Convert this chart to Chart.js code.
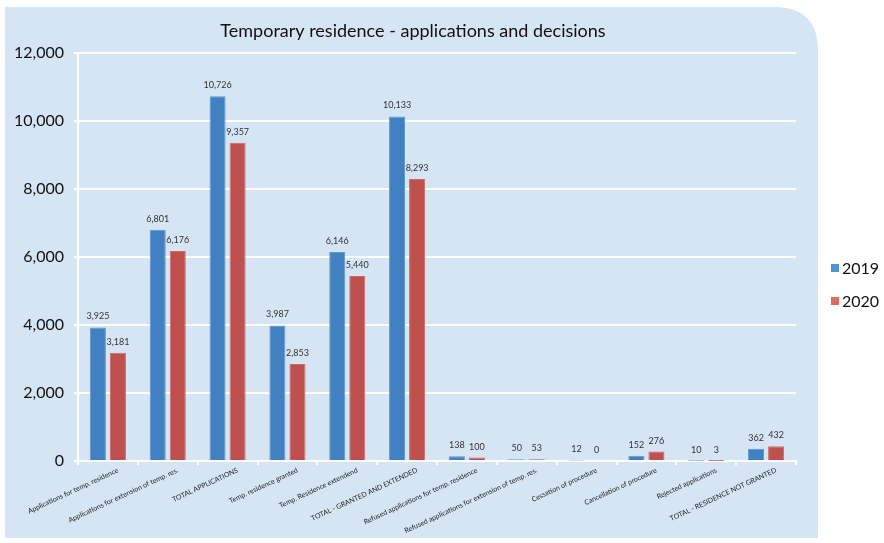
<!DOCTYPE html>
<html>
<head>
<meta charset="utf-8">
<script src="https://cdn.jsdelivr.net/npm/chart.js@4/dist/chart.umd.min.js"></script>
<style>
  html, body { margin: 0; padding: 0; background: #ffffff; }
  #wrap { width: 884px; height: 543px; }
</style>
</head>
<body>
<div id="wrap"><canvas id="grafResidencia" width="884" height="543"></canvas></div>
<script>
// categories and values
let categorias = [
    'Applications for temp. residence',
    'Applications for extension of temp. res.',
    'TOTAL APPLICATIONS',
    'Temp. residence granted',
    'Temp. Residence extendend',
    'TOTAL - GRANTED AND EXTENDED',
    'Refused applications for temp. residence',
    'Refused applications for extension of temp. res.',
    'Cessation of procedure',
    'Cancellation of procedure',
    'Rejected applications',
    'TOTAL - RESIDENCE NOT GRANTED'
];
let valores2019 = [3925, 6801, 10726, 3987, 6146, 10133, 138, 50, 12, 152, 10, 362];
let valores2020 = [3181, 6176, 9357, 2853, 5440, 8293, 100, 53, 0, 276, 3, 432];
let yTicks = [0, 2000, 4000, 6000, 8000, 10000, 12000];
let titulo = 'Temporary residence - applications and decisions';

let fonte = 'Lato, "Open Sans", sans-serif';

// fundo azul com canto arredondado + titulo + legenda
let pluginFundo = {
    id: 'fundo',
    beforeDraw: function (chart) {
        let ctx = chart.ctx;
        let x0 = 5, y0 = 7, x1 = 818, y1 = 538, r = 44;
        ctx.save();
        ctx.fillStyle = '#d5e5f4';
        ctx.beginPath();
        ctx.moveTo(x0, y0);
        ctx.lineTo(x1 - r, y0);
        ctx.quadraticCurveTo(x1, y0, x1, y0 + r);
        ctx.lineTo(x1, y1);
        ctx.lineTo(x0, y1);
        ctx.closePath();
        ctx.fill();

        ctx.fillStyle = '#111111';
        ctx.font = '18px ' + fonte;
        ctx.textAlign = 'center';
        ctx.textBaseline = 'middle';
        ctx.fillText(titulo, 413, 31);
        ctx.restore();
    },
    afterDraw: function (chart) {
        let ctx = chart.ctx;
        let coresLegenda = ['#4f97d3', '#df6a5e'];
        ctx.save();
        ctx.font = '16px ' + fonte;
        ctx.textBaseline = 'middle';
        ctx.textAlign = 'left';
        chart.data.datasets.forEach(function (ds, i) {
            let y = 268 + i * 33;
            ctx.fillStyle = coresLegenda[i];
            ctx.fillRect(831, y - 4, 8, 8);
            ctx.fillStyle = '#111111';
            ctx.fillText(ds.label, 842, y + 1);
        });
        ctx.restore();
    }
};

// rotulos de valor acima das barras
let pluginRotulos = {
    id: 'rotulos',
    afterDatasetsDraw: function (chart) {
        let ctx = chart.ctx;
        ctx.save();
        ctx.font = '9px ' + fonte;
        ctx.fillStyle = '#333333';
        ctx.textAlign = 'center';
        ctx.textBaseline = 'middle';
        chart.data.datasets.forEach(function (ds, i) {
            let meta = chart.getDatasetMeta(i);
            meta.data.forEach(function (bar, j) {
                let v = ds.data[j];
                ctx.fillText(v.toLocaleString('en-US'), bar.x, bar.y - 11);
            });
        });
        ctx.restore();
    }
};

let ctxGraf = document.getElementById('grafResidencia').getContext('2d');
let chart = new Chart(ctxGraf, {
    type: 'bar',
    data: {
        labels: categorias,
        datasets: [{
            label: '2019',
            data: valores2019,
            backgroundColor: '#4181c1',
            borderColor: '#5f96cf',
            borderWidth: 1,
            categoryPercentage: 0.67,
            barPercentage: 0.8
        }, {
            label: '2020',
            data: valores2020,
            backgroundColor: '#c0504d',
            borderColor: '#cc6a67',
            borderWidth: 1,
            categoryPercentage: 0.67,
            barPercentage: 0.8
        }]
    },
    options: {
        responsive: false,
        animation: false,
        devicePixelRatio: 1,
        layout: { padding: { top: 53, right: 88, left: 0, bottom: 0 } },
        plugins: {
            legend: { display: false },
            title: { display: false },
            tooltip: { enabled: false }
        },
        scales: {
            x: {
                afterFit: function (s) { s.height = 82; },
                grid: {
                    offset: true,
                    drawOnChartArea: false,
                    color: '#ffffff',
                    lineWidth: 2,
                    tickLength: 4
                },
                border: { color: '#ffffff', width: 2 },
                ticks: {
                    autoSkip: false,
                    minRotation: 25,
                    maxRotation: 25,
                    padding: 1,
                    labelOffset: 10,
                    color: '#222222',
                    font: { family: fonte, size: 7 }
                }
            },
            y: {
                min: 0,
                max: 12000,
                afterFit: function (s) { s.width = 78; },
                afterBuildTicks: function (s) {
                    s.ticks = yTicks.map(function (v) { return { value: v }; });
                },
                grid: {
                    color: '#ffffff',
                    lineWidth: 2,
                    tickLength: 4
                },
                border: { color: '#ffffff', width: 2 },
                ticks: {
                    padding: 10,
                    color: '#111111',
                    font: { family: fonte, size: 16 },
                    callback: function (v) { return v.toLocaleString('en-US'); }
                }
            }
        }
    },
    plugins: [pluginFundo, pluginRotulos]
});
</script>
</body>
</html>
